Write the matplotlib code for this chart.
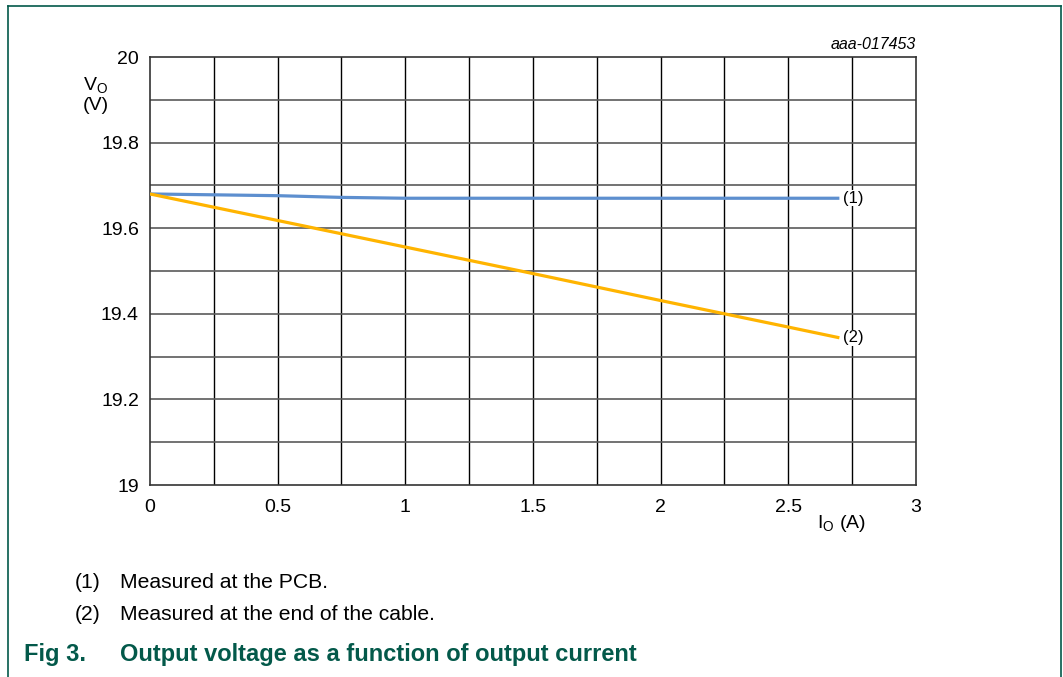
import matplotlib.pyplot as plt
from matplotlib.lines import Line2D

plt.rcParams['font.family'] = ['Liberation Sans', 'DejaVu Sans']

# data
current = [0, 0.25, 0.5, 0.75, 1.0, 1.5, 2.0, 2.5, 2.7]
v_pcb = [19.680, 19.678, 19.676, 19.672, 19.670, 19.670, 19.670, 19.670, 19.670]
v_cable = [19.680, 19.649, 19.618, 19.587, 19.556, 19.494, 19.431, 19.369, 19.344]

xticks = [0, 0.5, 1, 1.5, 2, 2.5, 3]
xtick_labels = ['0', '0.5', '1', '1.5', '2', '2.5', '3']
yticks = [19, 19.2, 19.4, 19.6, 19.8, 20]
ytick_labels = ['19', '19.2', '19.4', '19.6', '19.8', '20']

green = '#03594a'

fig = plt.figure(figsize=(10.63, 6.77), dpi=100)
ax = fig.add_axes([0.1411, 0.2836, 0.7206, 0.6322])

ax.plot(current, v_pcb, color='#5d8fcf', lw=2.3, solid_capstyle='butt', zorder=3)
ax.plot(current, v_cable, color='#ffb400', lw=2.3, solid_capstyle='butt', zorder=3)

ax.set_xlim(0, 3)
ax.set_ylim(19, 20)
ax.set_xticks(xticks)
ax.set_xticklabels(xtick_labels)
ax.set_yticks(yticks)
ax.set_yticklabels(ytick_labels)
ax.tick_params(length=0, labelsize=14)
ax.tick_params(axis='y', pad=8)
ax.tick_params(axis='x', pad=10)

# grid: verticals every 0.25, horizontals every 0.1
for gx in [i * 0.25 for i in range(1, 12)]:
    ax.axvline(gx, color='black', lw=1.0, zorder=1)
for gy in [19 + i * 0.1 for i in range(1, 10)]:
    ax.axhline(gy, color='#5a5a5a', lw=1.2, zorder=1)
for s in ax.spines.values():
    s.set_color('#333333')
    s.set_linewidth(1.2)

ax.text(2.715, v_pcb[-1], '(1)', fontsize=12, va='center', ha='left', zorder=4,
        bbox=dict(facecolor='white', edgecolor='none', pad=0.3))
ax.text(2.715, v_cable[-1], '(2)', fontsize=12, va='center', ha='left', zorder=4,
        bbox=dict(facecolor='white', edgecolor='none', pad=0.3))

ax.text(1.0, 1.012, 'aaa-017453', transform=ax.transAxes, fontsize=11.5,
        style='italic', ha='right', va='bottom')

fig.text(96 / 1063, 1 - 86 / 677, r'V$_\mathregular{O}$', fontsize=14, ha='center', va='center')
fig.text(96 / 1063, 1 - 105 / 677, '(V)', fontsize=14, ha='center', va='center')
fig.text(841 / 1063, 1 - 523 / 677, r'I$_\mathregular{O}$ (A)', fontsize=14, ha='center', va='center')

fig.text(75 / 1063, 1 - 582 / 677, '(1)', fontsize=15.2, va='center')
fig.text(120 / 1063, 1 - 582 / 677, 'Measured at the PCB.', fontsize=15.2, va='center')
fig.text(75 / 1063, 1 - 615 / 677, '(2)', fontsize=15.2, va='center')
fig.text(120 / 1063, 1 - 615 / 677, 'Measured at the end of the cable.', fontsize=15.2, va='center')

fig.text(24 / 1063, 1 - 655 / 677, 'Fig 3.', fontsize=17, weight='bold', color=green, va='center')
fig.text(120 / 1063, 1 - 655 / 677, 'Output voltage as a function of output current',
         fontsize=17, weight='bold', color=green, va='center')

# page frame
fx0, fx1, fy = 7.5 / 1063, 1061 / 1063, 1 - 5.5 / 677
fig.add_artist(Line2D([fx0, fx1], [fy, fy], color=green, lw=1.2))
fig.add_artist(Line2D([fx0, fx0], [0, fy], color=green, lw=1.2))
fig.add_artist(Line2D([fx1, fx1], [0, fy], color=green, lw=1.2))

fig.savefig('out.png', dpi=100)
